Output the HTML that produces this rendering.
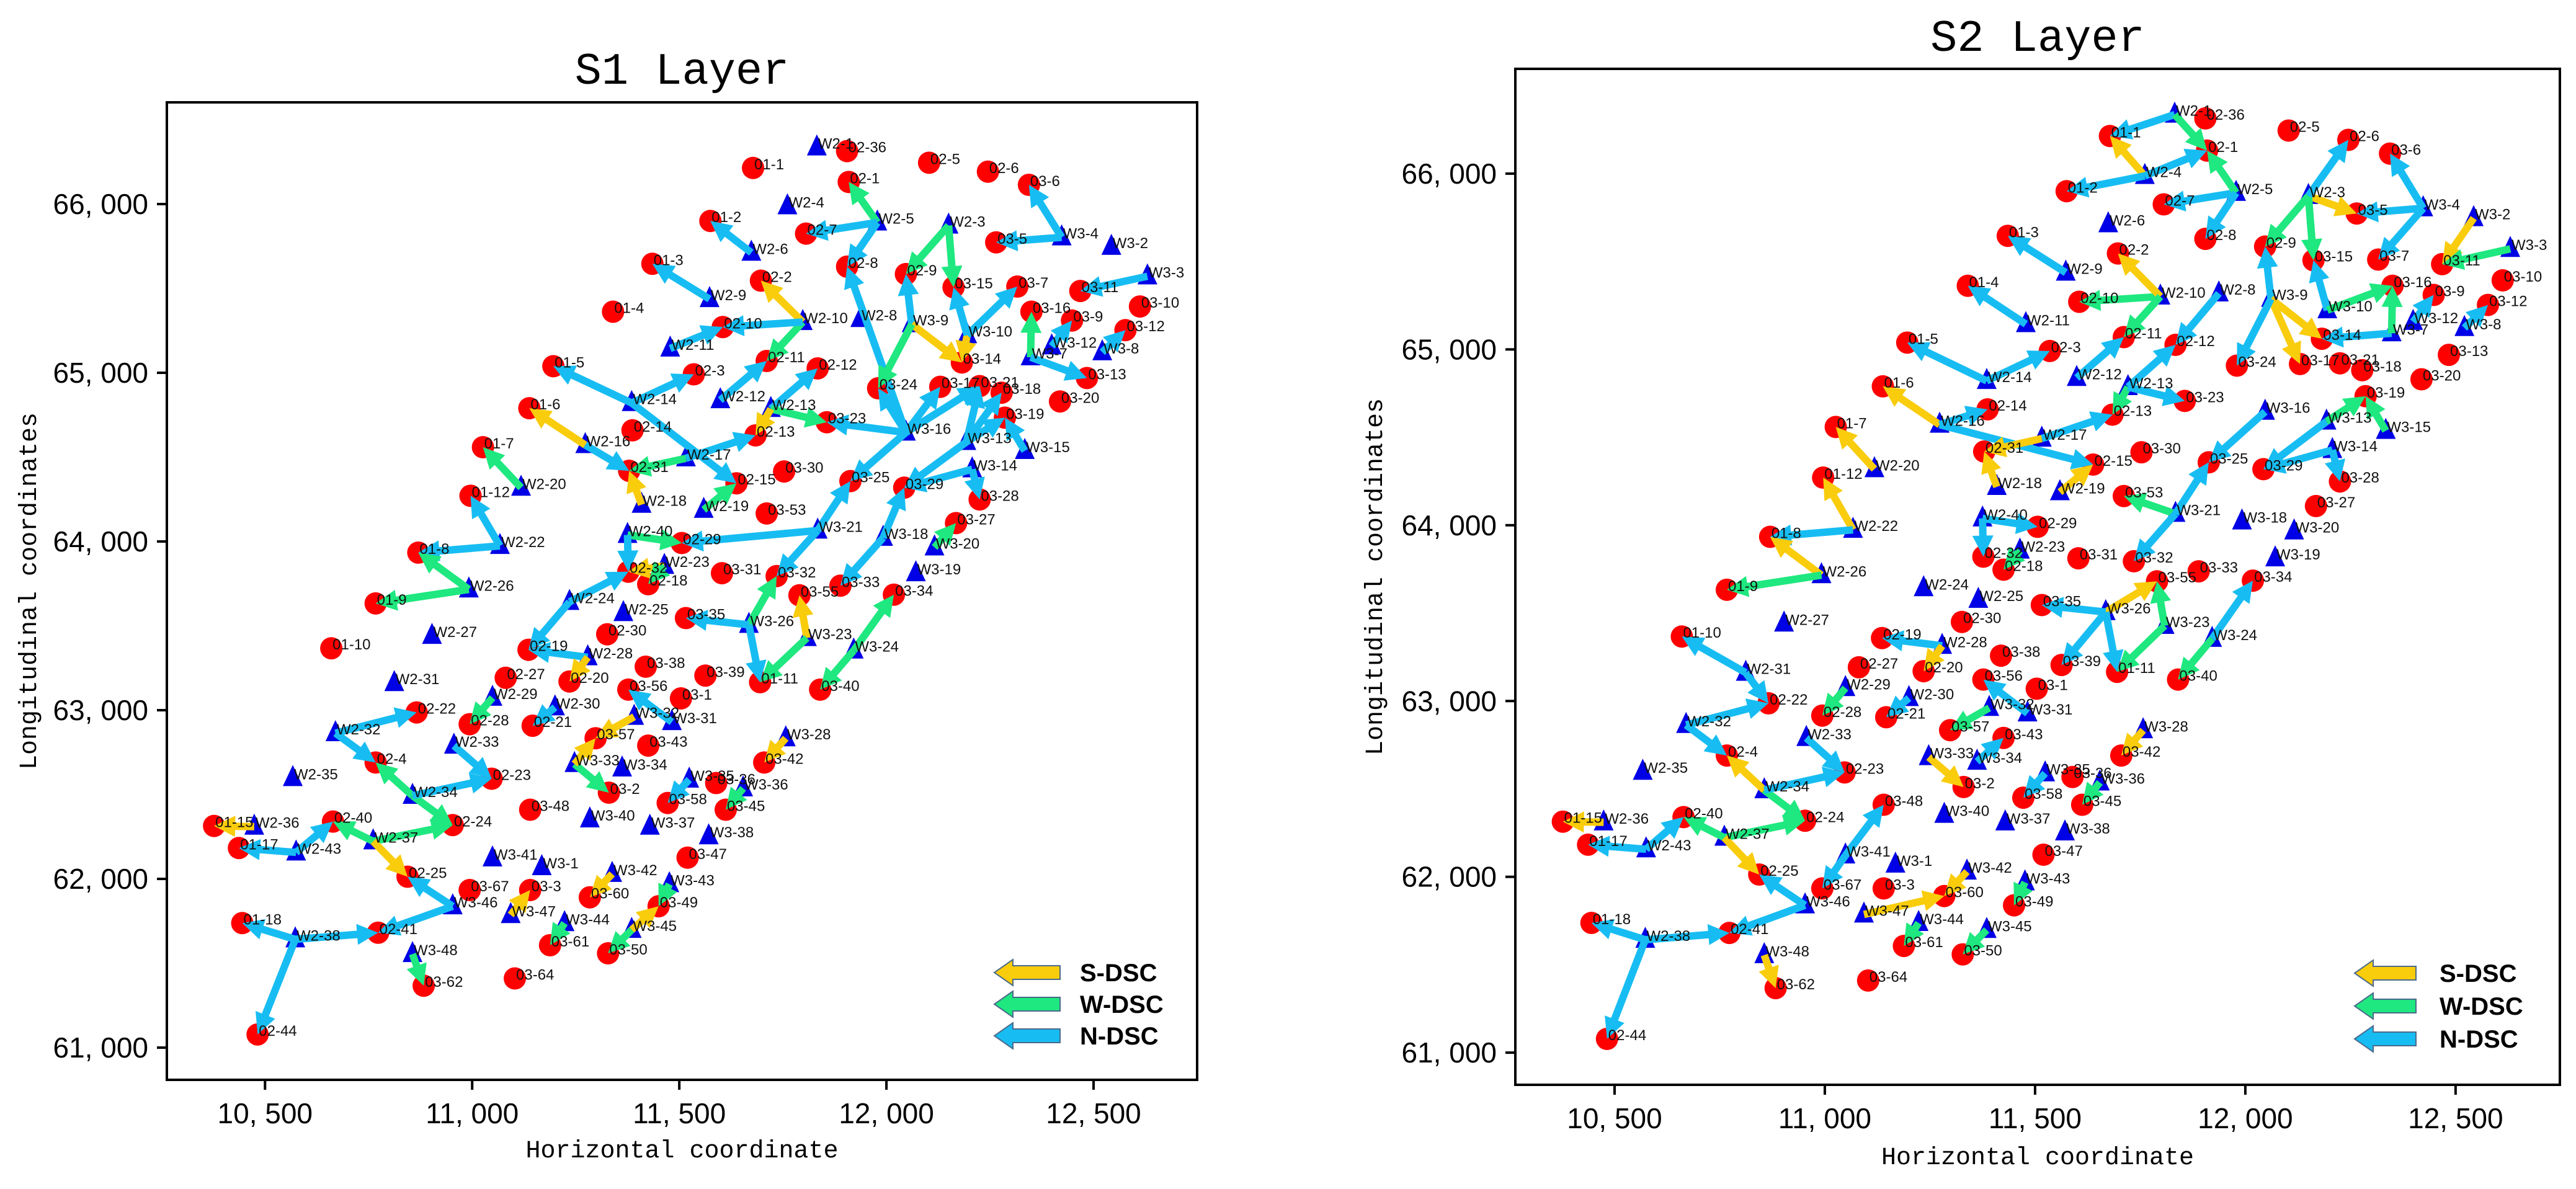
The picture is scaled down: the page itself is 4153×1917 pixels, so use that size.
<!DOCTYPE html>
<html><head><meta charset="utf-8">
<style>
html,body{margin:0;padding:0;background:#fff;}
svg{display:block;}
</style></head>
<body>
<svg id="chart" width="4153" height="1917" viewBox="0 0 4153 1917" xmlns="http://www.w3.org/2000/svg"></svg>
<script>
const nodeNames=["01-1","02-36","02-5","02-6","03-6","02-1","01-2","02-7","03-5","01-3","02-8","02-9","02-2","03-15","03-7","03-11","03-10","01-4","03-16","03-9","02-10","03-12","02-11","02-12","03-14","03-13","01-5","02-3","03-24","03-17","03-21","03-18","03-20","01-6","03-19","03-23","02-13","02-14","01-7","02-31","03-30","02-15","03-25","03-29","03-28","01-12","03-53","03-27","02-29","01-8","03-31","02-18","02-32","03-32","03-33","03-55","03-34","01-9","03-35","02-30","01-10","02-19","03-38","02-27","03-39","01-11","03-40","02-20","03-56","03-1","02-22","02-28","02-21","03-57","03-43","02-4","03-42","02-23","03-2","03-58","03-36","03-45","03-48","02-40","01-15","02-24","01-17","03-47","02-25","03-67","03-3","03-60","03-49","01-18","02-41","03-61","03-50","03-62","03-64","02-44",
"W2-1","W2-4","W2-5","W2-3","W3-4","W3-2","W3-3","W2-6","W2-9","W2-10","W2-8","W3-9","W3-10","W3-12","W3-7","W3-8","W2-11","W2-14","W2-12","W2-13","W3-16","W2-16","W2-17","W3-13","W3-15","W3-14","W2-20","W2-18","W2-19","W3-21","W3-18","W3-20","W2-40","W2-22","W2-23","W3-19","W2-26","W2-24","W2-25","W2-27","W3-26","W3-23","W3-24","W2-28","W2-31","W2-29","W2-30","W3-32","W3-31","W2-32","W2-33","W3-28","W3-33","W3-34","W2-35","W3-35","W3-36","W2-34","W3-40","W3-37","W3-38","W2-36","W2-37","W2-43","W3-41","W3-1","W3-42","W3-43","W3-46","W3-47","W3-44","W3-45","W2-38","W3-48"];
const nodeX=[11678,11905,12103,12245,12344,11909,11575,11806,12265,11435,11905,12047,11697,12162,12316,12468,12612,11340,12350,12448,11605,12577,11711,11834,12182,12484,11196,11535,11980,12130,12225,12278,12419,11138,12286,11856,11684,11387,11026,11379,11753,11638,11913,12043,12225,10996,11711,12168,11506,10870,11603,11425,11377,11735,11889,11790,12018,10767,11516,11326,10660,11136,11419,11081,11563,11695,11840,11235,11377,11504,10866,10994,11146,11298,11425,10767,11705,11047,11330,11472,11589,11612,11140,10664,10377,10953,10437,11520,10844,10994,11140,11284,11450,10445,10773,11188,11328,10883,11103,10482,
11832,11761,11978,12150,12423,12543,12630,11674,11573,11798,11937,12061,12195,12399,12348,12521,11478,11385,11599,11721,12047,11273,11516,12193,12334,12207,11118,11409,11559,11834,11992,12116,11375,11067,11464,12071,10992,11235,11365,10903,11668,11808,11921,11279,10812,11049,11200,11391,11482,10670,10956,11757,11247,11362,10567,11524,11654,10856,11284,11429,11571,10474,10761,10575,11049,11168,11338,11476,10953,11093,11223,11385,10573,10856];
const nodeY=[66214,66314,66245,66192,66114,66131,65900,65825,65773,65646,65629,65585,65546,65507,65511,65485,65393,65362,65362,65310,65271,65253,65070,65026,65061,64969,65039,64991,64908,64917,64921,64882,64830,64790,64734,64707,64629,64659,64559,64419,64415,64345,64358,64319,64249,64271,64166,64109,63991,63934,63812,63747,63821,63795,63738,63681,63685,63633,63546,63450,63367,63358,63258,63192,63205,63166,63122,63170,63122,63070,62987,62917,62908,62834,62790,62690,62690,62594,62511,62450,62568,62410,62410,62340,62314,62319,62183,62126,62013,61934,61934,61891,61838,61738,61681,61607,61559,61367,61410,61078,
66336,65987,65891,65873,65803,65747,65572,65712,65437,65301,65319,65288,65223,65157,65092,65122,65144,64821,64838,64786,64646,64572,64493,64590,64537,64428,64319,64218,64188,64065,64022,63965,64039,63974,63856,63812,63716,63642,63576,63441,63506,63428,63354,63314,63161,63074,63017,62961,62930,62864,62790,62834,62681,62655,62598,62589,62537,62493,62353,62310,62253,62310,62223,62157,62122,62070,62030,61969,61838,61786,61738,61698,61642,61555];
const xTicks=[10500,11000,11500,12000,12500];
const xTickLabels=["10, 500","11, 000","11, 500","12, 000","12, 500"];
const yTicks=[61000,62000,63000,64000,65000,66000];
const yTickLabels=["61, 000","62, 000","63, 000","64, 000","65, 000","66, 000"];
const legendTypes=["S","W","N"];
const legendLabels=["S-DSC","W-DSC","N-DSC"];
const s1From=["W2-5","W2-5","W2-6","W2-5","W2-3","W2-3","W3-4","W3-4","W2-9","W2-10","W2-10","W2-10","W3-16","W3-16","W3-9","W3-9","W3-9","W3-10","W3-10","W3-10","W3-3","W3-12","W3-7","W3-7","W3-8","W3-16","W3-16","W3-13","W3-13","W3-13","W3-15","W3-14","W3-14","W3-13","W2-12","W2-13","W2-13","W3-16","W2-13","W2-17","W2-14","W2-14","W2-16","W2-16","W2-14","W2-17","W2-18","W2-20","W2-22","W2-22","W2-26","W2-26","W2-19","W3-21","W2-40","W2-40","W2-23","W2-23","W2-24","W2-24","W3-21","W3-21","W3-16","W3-18","W3-18","W3-20","W3-23","W3-26","W3-26","W3-26","W3-23","W3-24","W3-24","W2-28","W2-28","W2-29","W2-30","W3-31","W3-32","W2-32","W2-32","W2-34","W2-34","W2-33","W2-34","W2-43","W2-43","W2-36","W2-37","W2-37","W2-37","W3-46","W3-46","W2-38","W2-38","W2-38","W3-48","W3-33","W3-33","W3-35","W3-36","W3-28","W3-47","W3-44","W3-43","W3-45","W3-45","W3-42","W2-11"];
const s1To=["02-1","02-7","01-2","02-8","02-9","03-15","03-6","03-5","01-3","02-2","02-11","02-10","02-8","03-24","02-9","03-14","03-24","03-14","03-15","03-7","03-11","03-9","03-16","03-13","03-12","03-17","03-21","03-21","03-18","03-19","03-19","03-28","03-29","03-29","02-11","02-12","03-23","03-23","02-13","02-13","01-5","02-3","01-6","02-31","02-15","02-31","02-31","01-7","01-12","01-8","01-8","01-9","02-15","02-29","02-29","02-32","02-32","02-18","02-32","02-19","03-32","03-25","03-25","03-33","03-29","03-27","03-55","03-32","03-35","01-11","01-11","03-34","03-40","02-19","02-20","02-28","02-21","03-56","03-57","02-22","02-4","02-24","02-4","02-23","02-23","02-40","01-17","01-15","02-40","02-24","02-25","02-25","02-41","01-18","02-41","02-44","03-62","03-2","03-57","03-58","03-45","03-42","03-3","03-61","03-49","03-49","03-50","03-60","02-10"];
const s1Type=["W","N","N","N","W","W","N","N","N","S","W","N","N","N","N","S","W","S","N","N","N","N","W","N","N","N","N","N","N","N","N","N","N","N","N","N","W","N","S","N","N","N","S","N","N","W","S","W","N","N","W","W","W","N","W","N","S","W","N","N","N","N","N","N","N","W","S","W","N","N","W","W","W","N","S","W","N","N","S","N","N","W","W","N","N","N","N","S","W","W","S","N","N","N","N","N","W","W","S","N","W","S","S","W","W","S","W","S","N"];
const s2From=["W2-1","W2-1","W2-4","W2-4","W2-4","W2-5","W2-5","W2-5","W2-3","W2-3","W2-3","W2-3","W3-4","W3-4","W3-4","W3-2","W3-3","W2-9","W2-11","W2-10","W2-10","W2-10","W2-8","W3-9","W3-9","W3-9","W3-9","W3-10","W3-10","W3-7","W3-7","W3-12","W3-8","W2-14","W2-14","W2-12","W2-13","W2-13","W2-13","W2-17","W2-16","W2-16","W2-16","W2-17","W2-18","W2-20","W2-22","W2-22","W2-26","W2-26","W2-19","W3-21","W2-40","W2-40","W2-23","W3-21","W3-21","W3-13","W3-13","W3-15","W3-14","W3-14","W3-24","W3-24","W3-23","W3-23","W3-26","W3-26","W3-26","W3-26","W2-28","W2-28","W2-29","W2-30","W2-31","W2-31","W2-32","W2-32","W2-33","W2-34","W2-34","W2-34","W2-43","W2-43","W2-36","W2-37","W2-37","W2-37","W3-46","W3-46","W3-41","W3-41","W2-38","W2-38","W2-38","W3-48","W3-32","W3-31","W3-33","W3-34","W3-35","W3-36","W3-28","W3-47","W3-44","W3-43","W3-45","W3-42","W3-16"];
const s2To=["01-1","02-1","01-1","01-2","02-1","02-7","02-1","02-8","02-9","03-5","03-15","02-6","03-6","03-5","03-7","03-11","03-11","01-3","01-4","02-10","02-2","02-11","02-12","02-9","03-14","03-17","03-24","03-15","03-16","03-14","03-16","03-9","03-12","01-5","02-3","02-11","02-13","03-23","02-12","02-13","01-6","02-14","02-15","02-31","02-31","01-7","01-12","01-8","01-8","01-9","02-15","03-53","02-29","02-32","02-18","03-32","03-25","03-29","03-19","03-19","03-28","03-29","03-34","03-40","03-55","01-11","03-55","03-35","01-11","03-39","02-19","02-20","02-28","02-21","01-10","02-22","02-22","02-4","02-23","02-4","02-24","02-23","02-40","01-17","01-15","02-40","02-24","02-25","02-25","02-41","03-48","03-67","01-18","02-41","02-44","03-62","03-57","03-56","03-2","03-43","03-58","03-45","03-42","03-60","03-61","03-49","03-50","03-60","03-25"];
const s2Type=["N","W","S","N","N","N","W","N","W","S","W","N","N","N","N","S","W","N","N","W","S","W","N","N","S","S","N","N","W","N","W","N","N","N","N","N","W","N","N","N","S","N","N","S","S","S","S","N","S","W","S","W","N","N","W","N","N","N","W","W","N","N","N","W","W","W","S","N","N","N","N","S","W","N","N","N","N","N","N","S","W","N","N","N","S","W","W","S","N","N","N","N","N","N","N","S","W","N","S","N","N","W","S","S","W","W","W","S","N"];
</script>
<script>
const NS="http://www.w3.org/2000/svg";
const svg=document.getElementById('chart');
const COL={S:"#f9cc0c",W:"#1ee87f",N:"#17bdf2"};
function mk(tag,attrs,parent){const e=document.createElementNS(NS,tag);for(const k in attrs)e.setAttribute(k,attrs[k]);(parent||svg).appendChild(e);return e;}
function arrowPts(x1,y1,x2,y2,sw,hl,hw){
  const dx=x2-x1,dy=y2-y1,L=Math.hypot(dx,dy)||1,ux=dx/L,uy=dy/L,px=-uy,py=ux;
  const bx=x2-ux*hl,by=y2-uy*hl;
  const p=[[x1+px*sw,y1+py*sw],[bx+px*sw,by+py*sw],[bx+px*hw,by+py*hw],[x2,y2],[bx-px*hw,by-py*hw],[bx-px*sw,by-py*sw],[x1-px*sw,y1-py*sw]];
  return p.map(q=>q[0].toFixed(1)+","+q[1].toFixed(1)).join(" ");
}
const idx={};nodeNames.forEach((n,i)=>idx[n]=i);
function drawChart(cfg){
  const g=mk('g',{});
  
  
  const sx=v=>cfg.L+(v-cfg.x0)/(cfg.x1-cfg.x0)*(cfg.R-cfg.L);
  const sy=v=>cfg.B-(v-cfg.y0)/(cfg.y1-cfg.y0)*(cfg.B-cfg.T);
  const t=mk('text',{x:(cfg.L+cfg.R)/2,y:cfg.titleY,'font-family':'Liberation Mono, monospace','font-size':72,'text-anchor':'middle'},g);
  t.textContent=cfg.title;
  xTicks.forEach((v,i)=>{const x=sx(v);
    const l=mk('line',{x1:x,x2:x,y1:cfg.B,y2:cfg.B+16,stroke:'#000','stroke-width':4},g);
    
    const tx=mk('text',{x:x,y:cfg.B+70,'font-family':'Liberation Sans, sans-serif','font-size':46,'text-anchor':'middle'},g);
    tx.textContent=xTickLabels[i];});
  yTicks.forEach((v,i)=>{const y=sy(v);
    const l=mk('line',{x1:cfg.L-16,x2:cfg.L,y1:y,y2:y,stroke:'#000','stroke-width':4},g);
    
    const tx=mk('text',{x:cfg.L-30,y:y+16,'font-family':'Liberation Sans, sans-serif','font-size':46,'text-anchor':'end'},g);
    tx.textContent=yTickLabels[i];});
  const xl=mk('text',{x:(cfg.L+cfg.R)/2,y:cfg.xlabY,'font-family':'Liberation Mono, monospace','font-size':40,'text-anchor':'middle'},g);
  xl.textContent='Horizontal coordinate';
  const yl=mk('text',{x:0,y:0,'font-family':'Liberation Mono, monospace','font-size':40,'text-anchor':'middle',transform:`translate(${cfg.ylabX},${(cfg.T+cfg.B)/2}) rotate(-90)`},g);
  yl.textContent='Longitudinal coordinates';
  nodeNames.forEach((n,i)=>{const x=sx(nodeX[i]),y=sy(nodeY[i]);
    let m;
    if(n[0]==='W'){m=mk('polygon',{points:`${x},${y-21} ${x-16},${y+13} ${x+16},${y+13}`,fill:'#0000e6'},g);}
    else{m=mk('circle',{cx:x,cy:y,r:18,fill:'#ff0000'},g);}
    });
  cfg.from.forEach((f,k)=>{const a=idx[f],b=idx[cfg.to[k]];if(a===undefined||b===undefined)return;
    const x1=sx(nodeX[a]),y1=sy(nodeY[a]),x2=sx(nodeX[b]),y2=sy(nodeY[b]);
    const p=mk('polygon',{points:arrowPts(x1,y1,x2,y2,6,34,17),fill:COL[cfg.type[k]]},g);
    });
  nodeNames.forEach((n,i)=>{const x=sx(nodeX[i]),y=sy(nodeY[i]);
    const tx=mk('text',{x:x+2,y:y+2,'font-family':'Liberation Sans, sans-serif','font-size':24,fill:'#111'},g);
    tx.textContent=n;});
  const fr=mk('rect',{x:cfg.L,y:cfg.T,width:cfg.R-cfg.L,height:cfg.B-cfg.T,fill:'none',stroke:'#000','stroke-width':4},g);
  
  legendTypes.forEach((tp,i)=>{const y=cfg.legY+i*cfg.legDy;
    const a=mk('polygon',{points:arrowPts(cfg.legX1,y,cfg.legX0,y,11,30,21),fill:COL[tp],stroke:'#4a6a8a','stroke-width':2},g);
    
    const tx=mk('text',{x:cfg.legTx,y:y+14,'font-family':'Liberation Sans, sans-serif','font-size':40,'font-weight':'bold'},g);
    tx.textContent=legendLabels[i];});
}
drawChart({name:'s1-layer-chart',title:'S1 Layer',L:269,R:1930,T:165,B:1741,x0:10263,x1:12750,y0:60809,y1:66603,titleY:135,xlabY:1866,ylabX:58,
  from:s1From,to:s1To,type:s1Type,legX0:1603,legX1:1709,legY:1568,legDy:51,legTx:1741});
drawChart({name:'s2-layer-chart',title:'S2 Layer',L:2443,R:4127,T:111,B:1749,x0:10264,x1:12748,y0:60817,y1:66596,titleY:82,xlabY:1877,ylabX:2228,
  from:s2From,to:s2To,type:s2Type,legX0:3796,legX1:3895,legY:1569,legDy:53,legTx:3933});
</script>
</body></html>
